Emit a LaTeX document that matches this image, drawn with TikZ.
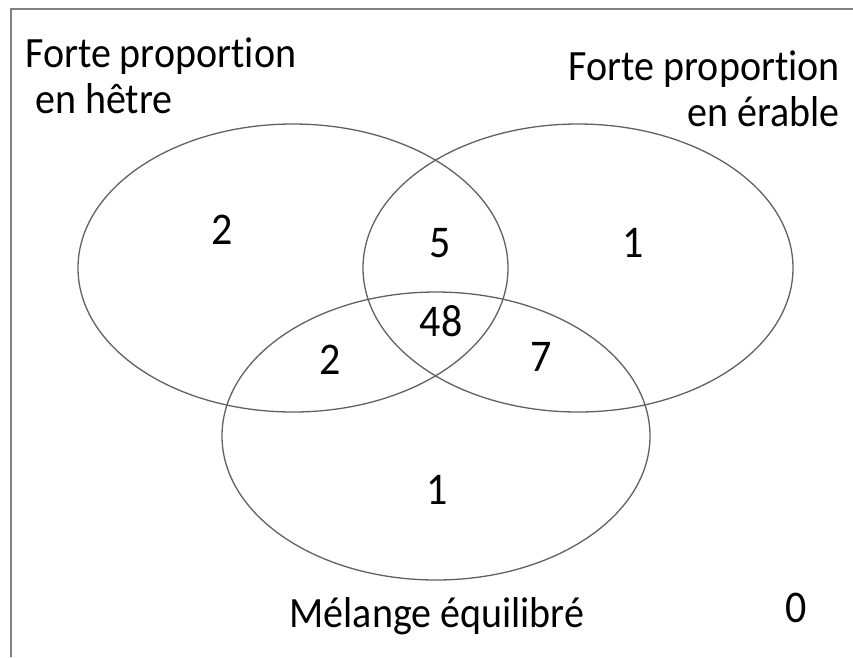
\documentclass[tikz,border=0pt]{standalone}
\usepackage{fontspec}
\setmainfont[Ligatures={NoCommon}]{Carlito}
\newcommand\vstretch[1]{\scalebox{1}[1.08]{#1}}
\begin{document}
\begin{tikzpicture}[x=1pt,y=-1pt,
  setline/.style={draw=black!62,line width=1.3pt},
  framel/.style={draw=black!50,line width=1.6pt},
  lbl/.style={font=\fontsize{40}{44}\selectfont,inner sep=0pt,text=black},
  num/.style={font=\fontsize{42}{46}\selectfont,inner sep=0pt,text=black}]
\useasboundingbox (0,0) rectangle (853,657);
\coordinate (fbot) at (11,657);
\coordinate (fcorner) at (11,9);
\coordinate (fright) at (853,9);
\draw[framel] (fbot) -- (fcorner) -- (fright);
\draw[setline] (293,268) ellipse [x radius=215, y radius=144];
\draw[setline] (578,268) ellipse [x radius=215, y radius=144];
\draw[setline] (436,436) ellipse [x radius=214, y radius=144];
\node[lbl,anchor=base west] (h1) at (25,67) {\vstretch{Forte proportion}};
\node[lbl,anchor=base west] (h2) at (35,113) {\vstretch{en hêtre}};
\node[lbl,anchor=base east] (e1) at (840,80) {\vstretch{Forte proportion}};
\node[lbl,anchor=base east] (e2) at (840,126) {\vstretch{en érable}};
\node[lbl,anchor=base] (m) at (437,627) {\vstretch{Mélange équilibré}};
\node[num] (n1) at (222,230) {\vstretch{2}};
\node[num] (n2) at (440,243) {\vstretch{5}};
\node[num] (n3) at (633,243) {\vstretch{1}};
\node[num] (n4) at (441,321) {\vstretch{48}};
\node[num] (n5) at (330,360) {\vstretch{2}};
\node[num] (n6) at (541,357) {\vstretch{7}};
\node[num] (n7) at (437,490) {\vstretch{1}};
\node[num] (n8) at (796,608) {\vstretch{0}};
\end{tikzpicture}
\end{document}
